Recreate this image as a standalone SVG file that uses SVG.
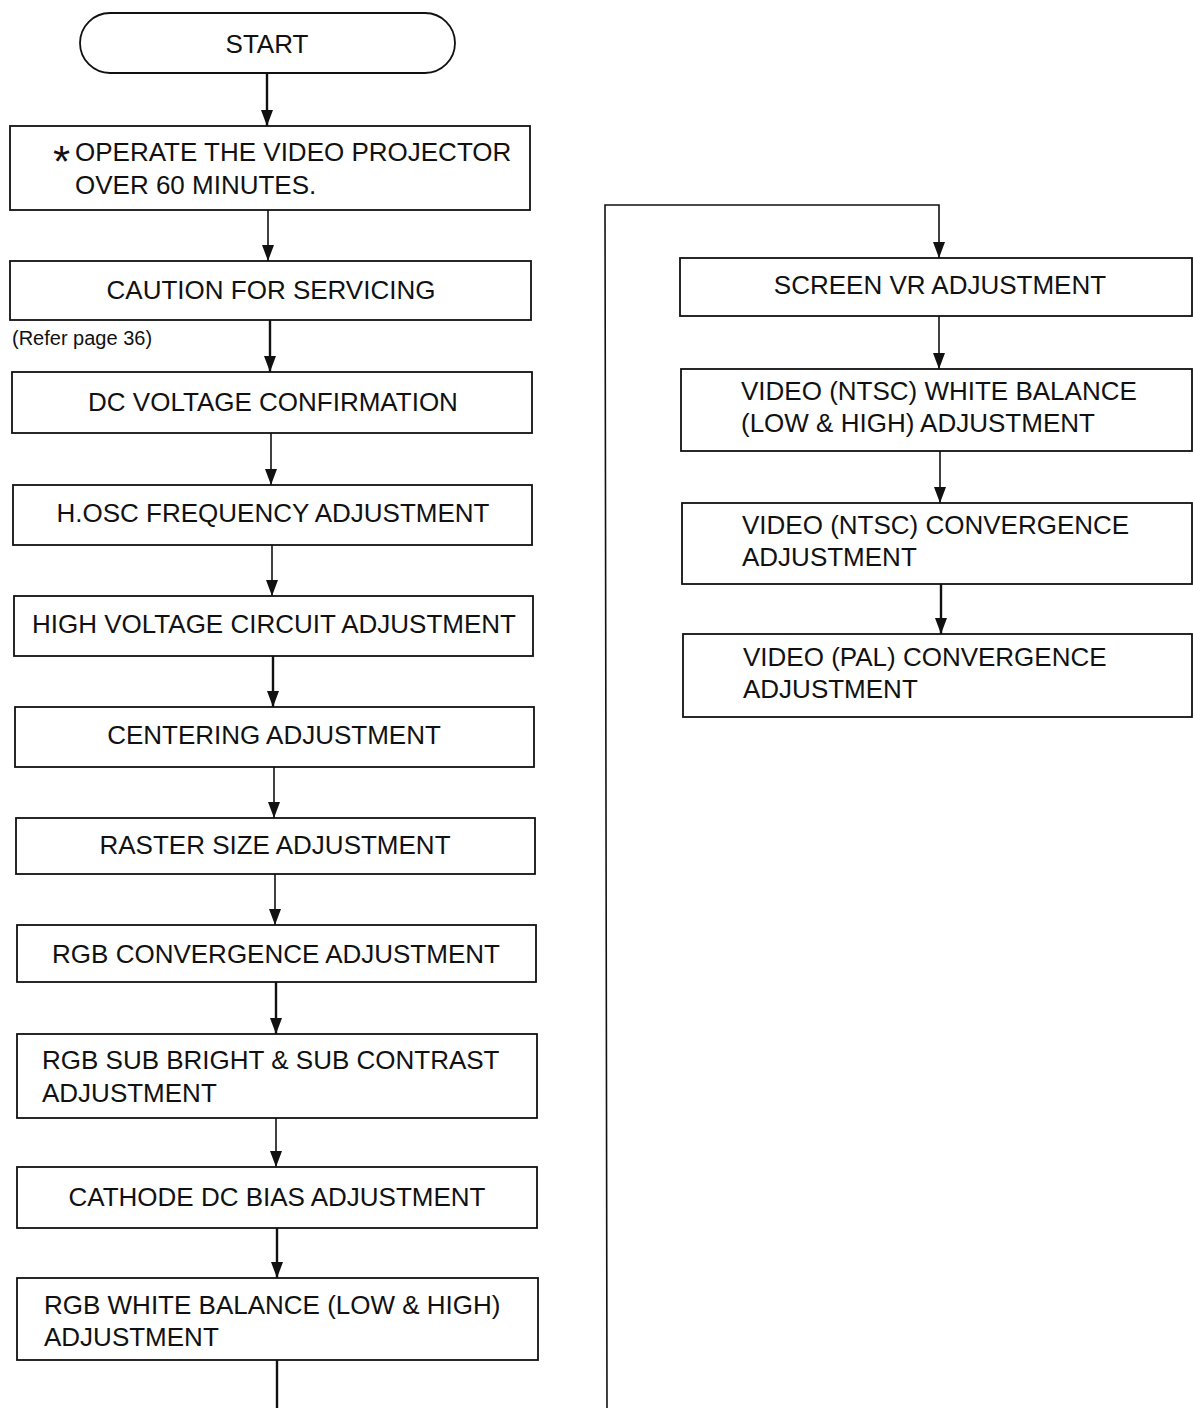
<svg xmlns="http://www.w3.org/2000/svg" width="1193" height="1408" viewBox="0 0 1193 1408">
<style>
.box{fill:#fff;stroke:#111;stroke-width:1.8}
.t{font-family:"Liberation Sans",Arial,sans-serif;font-size:26px;fill:#111}
.c{text-anchor:middle}
.ln{fill:none;stroke:#111;stroke-width:1.6}
.th{stroke-width:2.4}
.ast{font-size:44px}
</style>
<defs>
<marker id="ah" viewBox="0 0 16 12" refX="16" refY="6" markerWidth="16" markerHeight="12" markerUnits="userSpaceOnUse" orient="auto">
<path d="M0,0 L16,6 L0,12 Z" fill="#111"/>
</marker>
</defs>
<rect width="1193" height="1408" fill="#fff"/>
<g id="connectors">
<line class="ln th" x1="267" y1="73" x2="267" y2="126" marker-end="url(#ah)"/>
<line class="ln" x1="268" y1="210" x2="268" y2="261" marker-end="url(#ah)"/>
<line class="ln th" x1="270" y1="320" x2="270" y2="372" marker-end="url(#ah)"/>
<line class="ln" x1="271" y1="433" x2="271" y2="485" marker-end="url(#ah)"/>
<line class="ln" x1="272" y1="545" x2="272" y2="596" marker-end="url(#ah)"/>
<line class="ln th" x1="273" y1="656" x2="273" y2="707" marker-end="url(#ah)"/>
<line class="ln" x1="274" y1="767" x2="274" y2="818" marker-end="url(#ah)"/>
<line class="ln" x1="275" y1="874" x2="275" y2="925" marker-end="url(#ah)"/>
<line class="ln th" x1="276" y1="982" x2="276" y2="1034" marker-end="url(#ah)"/>
<line class="ln" x1="276" y1="1118" x2="276" y2="1167" marker-end="url(#ah)"/>
<line class="ln th" x1="277" y1="1228" x2="277" y2="1278" marker-end="url(#ah)"/>
<line class="ln th" x1="277" y1="1360" x2="277" y2="1408"/>
<polyline class="ln" points="607,1408 605,205 939,205 939,258" marker-end="url(#ah)"/>
<line class="ln" x1="939" y1="316" x2="939" y2="369" marker-end="url(#ah)"/>
<line class="ln" x1="940" y1="451" x2="940" y2="503" marker-end="url(#ah)"/>
<line class="ln th" x1="941" y1="584" x2="941" y2="634" marker-end="url(#ah)"/>
</g>
<g id="start">
<rect class="box" x="80" y="13" width="375" height="60" rx="30"/>
<text class="t c" x="267" y="53">START</text>
</g>
<g id="operate">
<rect class="box" x="10" y="126" width="520" height="84"/>
<text class="t" x="53" y="161"><tspan class="ast" dy="16">*</tspan><tspan x="75" dy="-16">OPERATE THE VIDEO PROJECTOR</tspan></text>
<text class="t" x="75" y="194">OVER 60 MINUTES.</text>
</g>
<g id="caution">
<rect class="box" x="10" y="261" width="521" height="59"/>
<text class="t c" x="271" y="299">CAUTION FOR SERVICING</text>
</g>
<text class="t" x="12" y="345" style="font-size:20px">(Refer page 36)</text>
<g id="dcvoltage">
<rect class="box" x="12" y="372" width="520" height="61"/>
<text class="t c" x="273" y="411">DC VOLTAGE CONFIRMATION</text>
</g>
<g id="hosc">
<rect class="box" x="13" y="485" width="519" height="60"/>
<text class="t c" x="273" y="522">H.OSC FREQUENCY ADJUSTMENT</text>
</g>
<g id="highvoltage">
<rect class="box" x="14" y="596" width="519" height="60"/>
<text class="t c" x="274" y="633">HIGH VOLTAGE CIRCUIT ADJUSTMENT</text>
</g>
<g id="centering">
<rect class="box" x="15" y="707" width="519" height="60"/>
<text class="t c" x="274" y="744">CENTERING ADJUSTMENT</text>
</g>
<g id="raster">
<rect class="box" x="16" y="818" width="519" height="56"/>
<text class="t c" x="275" y="854">RASTER SIZE ADJUSTMENT</text>
</g>
<g id="rgbconv">
<rect class="box" x="17" y="925" width="519" height="57"/>
<text class="t c" x="276" y="963">RGB CONVERGENCE ADJUSTMENT</text>
</g>
<g id="rgbsub">
<rect class="box" x="17" y="1034" width="520" height="84"/>
<text class="t" x="42" y="1069">RGB SUB BRIGHT &amp; SUB CONTRAST</text>
<text class="t" x="42" y="1102">ADJUSTMENT</text>
</g>
<g id="cathode">
<rect class="box" x="17" y="1167" width="520" height="61"/>
<text class="t c" x="277" y="1206">CATHODE DC BIAS ADJUSTMENT</text>
</g>
<g id="rgbwb">
<rect class="box" x="17" y="1278" width="521" height="82"/>
<text class="t" x="44" y="1314">RGB WHITE BALANCE (LOW &amp; HIGH)</text>
<text class="t" x="44" y="1346">ADJUSTMENT</text>
</g>
<g id="screenvr">
<rect class="box" x="680" y="258" width="512" height="58"/>
<text class="t c" x="940" y="294">SCREEN VR ADJUSTMENT</text>
</g>
<g id="videowb">
<rect class="box" x="681" y="369" width="511" height="82"/>
<text class="t" x="741" y="400">VIDEO (NTSC) WHITE BALANCE</text>
<text class="t" x="741" y="432">(LOW &amp; HIGH) ADJUSTMENT</text>
</g>
<g id="ntscconv">
<rect class="box" x="682" y="503" width="510" height="81"/>
<text class="t" x="742" y="534">VIDEO (NTSC) CONVERGENCE</text>
<text class="t" x="742" y="566">ADJUSTMENT</text>
</g>
<g id="palconv">
<rect class="box" x="683" y="634" width="509" height="83"/>
<text class="t" x="743" y="666">VIDEO (PAL) CONVERGENCE</text>
<text class="t" x="743" y="698">ADJUSTMENT</text>
</g>
</svg>
